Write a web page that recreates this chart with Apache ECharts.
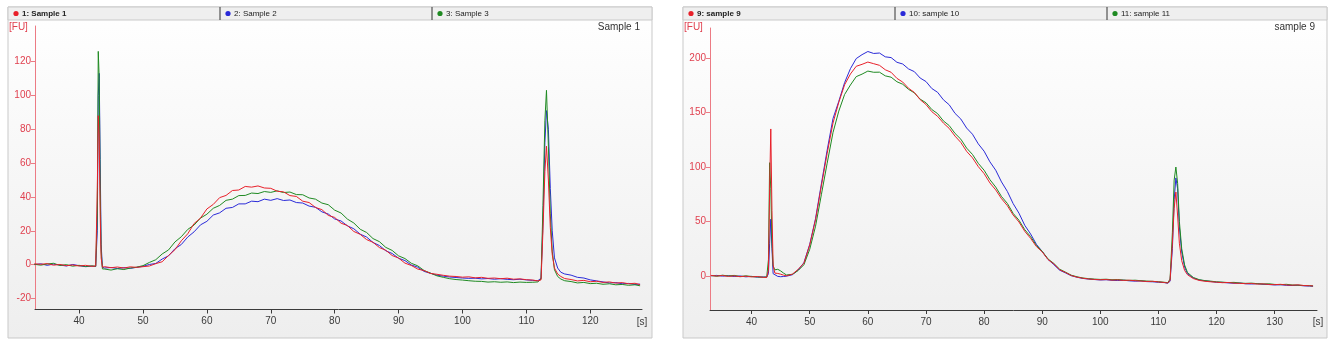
<!DOCTYPE html>
<html>
<head>
<meta charset="utf-8">
<script src="https://cdn.jsdelivr.net/npm/echarts@6/dist/echarts.min.js"></script>
<style>
html,body{margin:0;padding:0;background:#ffffff;}
#chart{width:1335px;height:344px;}
</style>
</head>
<body>
<div id="chart"></div>
<script>
// Electropherogram run times [s], panel A (samples 1-3)
const timeA = [33,34,35,36,37,38,39,40,41,42,42.6,42.85,43.0,43.15,43.3,43.45,43.65,43.9,
  44,45,46,47,48,49,50,51,52,53,54,55,56,57,58,59,60,61,62,63,64,65,66,67,68,69,70,71,72,73,74,75,
  76,77,78,79,80,81,82,83,84,85,86,87,88,89,90,91,92,93,94,95,96,97,98,99,100,101,102,103,104,105,
  106,107,108,109,110,111,111.8,112.3,112.6,112.9,113.15,113.45,113.75,114.05,114.4,114.9,115.4,
  116,117,118,119,120,121,122,123,124,125,126,127,127.8];

// Fluorescence [FU]
const sample1 = [0.5,0.2,0.6,-0.3,0.1,-0.6,-0.2,-0.8,-0.4,-1.0,-0.8,45,88,75,30,4,-1.5,-2,
  -1.2,-1.8,-1.4,-2.0,-1.3,-1.6,-1.2,-0.8,0.6,1.7,5.4,8.8,14.1,18.2,24.3,27.5,32.9,35.6,39.6,40.9,43.8,44.1,
  46.2,45.8,46.5,45.3,45.1,43.4,43.0,40.8,40.3,37.5,36.7,33.8,32.5,29.1,27.9,24.5,23.1,19.6,17.9,14.8,
  13.2,10.1,8.5,5.4,3.9,0.9,-0.5,-2.6,-3.5,-5.2,-5.7,-6.3,-6.8,-7.0,-7.4,-7.2,-7.8,-7.5,-8.1,-7.9,
  -8.3,-8.0,-8.6,-8.4,-8.9,-9.1,-9.6,-9.0,20,55,70,50,22,6,-2,-5.5,-7.0,
  -8.2,-8.8,-9.6,-9.3,-10.1,-9.8,-10.5,-10.2,-10.9,-10.6,-11.3,-11.0,-11.8];

const sample2 = [0.0,0.5,-0.4,0.3,-0.2,-0.8,0.1,-0.6,-1.2,-0.9,-1.1,20,100,113,62,12,-1.5,-2.4,
  -2.0,-1.7,-2.3,-1.8,-2.2,-1.6,-1.0,0.1,0.7,3.3,5.2,9.4,11.9,16.3,19.4,23.5,25.6,29.3,30.6,33.3,33.8,35.9,
  35.9,37.5,37.2,38.7,38.0,39.0,37.9,38.2,36.7,36.4,34.6,33.9,31.2,29.9,27.0,25.8,22.9,21.2,18.0,16.3,
  13.1,11.3,8.2,6.6,3.8,2.4,-0.2,-1.5,-4.0,-5.1,-6.2,-6.8,-7.3,-7.6,-7.9,-8.1,-8.0,-8.4,-8.2,-8.6,
  -8.3,-8.7,-8.9,-8.6,-9.0,-9.3,-9.5,-8.0,25,72,91,80,45,20,4,-2,-4.5,
  -5.5,-6.2,-7.5,-7.9,-9.0,-9.6,-10.2,-10.8,-10.6,-11.3,-11.1,-11.7,-11.5];

const sample3 = [0.2,-0.3,0.4,0.8,-0.5,0.0,-0.9,-0.4,-1.1,-0.7,-1.0,30,126,110,45,8,-2.5,-3,
  -2.6,-3.2,-2.4,-2.9,-2.0,-1.5,-0.6,1.3,2.9,6.3,8.7,13.4,16.5,20.8,23.4,27.5,29.8,33.3,35.0,38.0,38.7,40.8,
  40.9,42.3,42.0,43.2,42.7,43.6,42.6,42.9,41.4,41.3,39.4,38.7,36.4,35.4,32.2,30.5,26.9,24.6,20.9,19.0,
  15.4,13.6,10.2,8.4,5.2,3.6,0.8,-0.7,-3.5,-5.0,-6.6,-7.5,-8.3,-8.8,-9.1,-9.5,-9.8,-9.9,-10.3,-10.1,
  -10.4,-10.2,-10.6,-10.3,-10.5,-10.4,-10.2,-8.5,35,85,103,70,30,8,-3,-7,-8.5,
  -9.5,-10.0,-10.8,-10.5,-11.2,-11.0,-11.6,-11.3,-11.9,-11.7,-12.2,-11.9,-12.5];

// Run times [s], panel B (samples 9-11)
const timeB = [33,34,35,36,37,38,39,40,41,42,42.6,42.9,43.1,43.3,43.5,43.7,44,44.5,45,45.5,46,
  47,48,49,50,51,52,53,54,55,56,57,58,59,60,61,62,63,64,65,66,67,68,69,70,71,72,73,74,75,76,77,78,79,
  80,81,82,83,84,85,86,87,88,89,90,91,92,93,94,95,96,97,98,99,100,101,102,103,104,105,106,107,108,109,
  110,111,111.6,112,112.4,112.7,113.0,113.3,113.6,114.0,114.5,115,
  116,117,118,119,120,121,122,123,124,125,126,127,128,129,130,131,132,133,134,135,136,136.6];

const sample9 = [0.4,-0.2,0.3,-0.5,0.0,-0.8,-0.3,-1.0,-0.6,-1.4,-1.5,5,80,135,60,10,2.5,2.2,1.5,0.6,0.0,
  1.5,5.9,11.6,28.4,51.6,82.5,112.6,140.4,159.5,175.6,185.5,192.6,194.4,196.5,195.0,193.5,189.4,187.1,181.5,178.1,172.4,168.6,161.9,157.5,150.9,146.6,140.4,135.5,128.4,122.6,114.4,108.5,100.4,
  94.0,85.4,79.0,70.9,64.5,55.9,49.5,40.9,34.5,26.9,22.0,15.0,11.0,5.6,3.1,0.3,-1.2,-2.2,-2.9,-3.3,-3.6,-3.4,-3.9,-3.7,-4.2,-4.0,-4.5,-4.8,-5.2,-5.0,
  -5.6,-6.1,-6.6,-4,30,62,77,55,30,14,5,1,
  -2.5,-4.2,-5.0,-5.5,-5.8,-6.3,-6.1,-6.7,-6.9,-7.2,-7.0,-7.6,-7.4,-7.9,-8.1,-7.8,-8.4,-8.6,-8.3,-8.9,-9.1,-9.3];

const sample10 = [0.0,0.4,-0.3,0.2,-0.6,-0.1,-0.9,-0.5,-1.2,-1.0,-1.2,2,30,52,25,2,0.5,-0.5,-0.8,-0.6,-0.3,
  1.0,5.3,12.1,28.9,52.6,84.4,115.5,144.5,160.4,177.6,190.4,199.7,203.3,206.2,204.4,204.8,201.3,200.6,196.3,194.7,190.2,187.7,181.8,178.6,172.2,168.7,161.8,157.2,149.3,144.1,135.8,130.2,121.3,
  114.6,104.8,97.1,86.3,77.6,66.4,57.6,46.4,38.5,29.0,22.4,15.1,10.3,5.2,2.7,0.1,-1.3,-2.4,-3.0,-3.4,-3.8,-3.6,-4.1,-4.3,-4.0,-4.6,-4.9,-4.7,-5.3,-5.5,
  -5.9,-6.2,-6.8,-5,25,70,90,80,45,22,8,2,
  -2,-3.8,-4.6,-5.2,-5.9,-6.0,-6.5,-6.8,-6.6,-7.3,-7.5,-7.2,-7.8,-8.0,-8.4,-8.2,-8.7,-8.9,-8.6,-9.2,-9.4,-9.6];

const sample11 = [0.3,-0.4,0.6,-0.2,0.4,-0.7,0.0,-0.6,-1.0,-1.3,-1.0,15,104,80,30,9,5.5,6.0,4.5,2.5,0.8,
  1.4,4.8,10.2,24.4,45.6,74.5,103.5,131.6,151.4,166.7,175.4,183.1,185.4,188.2,187.1,187.2,183.8,182.6,178.4,176.1,171.4,168.2,162.4,159.1,152.9,149.1,142.4,138.1,130.9,125.6,117.4,111.6,103.4,
  97.1,88.4,81.6,72.9,66.6,57.4,51.1,42.4,36.1,27.9,22.5,15.5,11.4,6.1,3.4,0.6,-0.9,-2.0,-2.6,-3.0,-3.3,-3.1,-3.6,-3.4,-3.9,-4.2,-4.0,-4.5,-4.8,-5.1,
  -5.4,-5.9,-6.3,-3,40,88,100,85,50,25,10,3,
  -1.5,-3.5,-4.4,-4.9,-5.5,-5.8,-6.2,-6.0,-6.6,-6.9,-6.7,-7.2,-7.5,-7.3,-7.9,-8.1,-7.8,-8.4,-8.6,-8.9,-9.0,-9.3];

// Axis tick labels
const ticksXA = [40,50,60,70,80,90,100,110,120];
const ticksYA = [-20,0,20,40,60,80,100,120];
const ticksXB = [40,50,60,70,80,90,100,110,120,130];
const ticksYB = [0,50,100,150,200];

const legendA = ['1: Sample 1','2: Sample 2','3: Sample 3'];
const legendB = ['9: sample 9','10: sample 10','11: sample 11'];
const titleA = 'Sample 1';
const titleB = 'sample 9';

const COLORS = ['#e8202a','#2a2ad8','#1f8a22'];
const FONT = 'Liberation Sans, Arial, sans-serif';

function pairs(t, v){ return t.map((x,i)=>[x, v[i]]); }

function xAxisCfg(gi, min, max, ticks){
  return {
    type:'value', gridIndex:gi, min:min, max:max,
    axisLine:{show:true, onZero:false, lineStyle:{color:'#3a3a3a', width:1}},
    axisTick:{show:true, customValues:ticks, length:4, lineStyle:{color:'#3a3a3a'}},
    axisLabel:{customValues:ticks, color:'#3a3a3a', fontSize:10, fontFamily:FONT, margin:7},
    splitLine:{show:false}
  };
}
function yAxisCfg(gi, min, max, ticks){
  return {
    type:'value', gridIndex:gi, min:min, max:max,
    axisLine:{show:true, onZero:false, lineStyle:{color:'#ec7b84', width:1}},
    axisTick:{show:true, customValues:ticks, length:4, lineStyle:{color:'#ec7b84'}},
    axisLabel:{customValues:ticks, color:'#e0404f', fontSize:10, fontFamily:FONT, margin:4},
    splitLine:{show:false}
  };
}
function lineSeries(gi, t, v, color){
  return {
    type:'line', xAxisIndex:gi, yAxisIndex:gi, data:pairs(t, v),
    showSymbol:false, symbol:'none', smooth:false,
    lineStyle:{color:color, width:1}, itemStyle:{color:color}, z:3
  };
}

function panel(x0, x1, names, sepA, sepB){
  const els = [];
  els.push({type:'rect', z:-10, shape:{x:x0, y:7, width:x1-x0, height:331},
    style:{fill:new echarts.graphic.LinearGradient(0,0,0,1,[{offset:0,color:'#ffffff'},{offset:1,color:'#eeeeee'}]), stroke:'#c9c9c9', lineWidth:1}});
  els.push({type:'rect', z:-9, shape:{x:x0, y:7, width:x1-x0, height:13},
    style:{fill:'#efefef', stroke:'#c9c9c9', lineWidth:1}});
  [sepA, sepB].forEach(sx=>{
    els.push({type:'line', z:-8, shape:{x1:sx, y1:7, x2:sx, y2:20}, style:{stroke:'#333333', lineWidth:1}});
  });
  const starts = [x0, sepA, sepB];
  names.forEach((n,i)=>{
    const sx = starts[i] + 8;
    els.push({type:'circle', z:-7, shape:{cx:sx, cy:13.5, r:2.6}, style:{fill:COLORS[i]}});
    els.push({type:'text', z:-7, x:sx+6, y:13.5,
      style:{text:n, fill:'#222222', fontSize:8, fontWeight:i===0?'bold':'normal', fontFamily:FONT, textVerticalAlign:'middle', verticalAlign:'middle'}});
  });
  return els;
}

const chart = echarts.init(document.getElementById('chart'), null, {renderer:'canvas'});

const graphics = []
  .concat(panel(8, 652, legendA, 220, 432))
  .concat(panel(683, 1327, legendB, 895, 1107))
  .concat([
    {type:'text', x:640, y:27, style:{text:titleA, fill:'#333333', fontSize:10, fontFamily:FONT, align:'right', verticalAlign:'middle'}},
    {type:'text', x:1315, y:27, style:{text:titleB, fill:'#333333', fontSize:10, fontFamily:FONT, align:'right', verticalAlign:'middle'}},
    {type:'text', x:9, y:27, style:{text:'[FU]', fill:'#e0404f', fontSize:10, fontFamily:FONT, verticalAlign:'middle'}},
    {type:'text', x:684, y:27, style:{text:'[FU]', fill:'#e0404f', fontSize:10, fontFamily:FONT, verticalAlign:'middle'}},
    {type:'text', x:642, y:322, style:{text:'[s]', fill:'#3a3a3a', fontSize:10, fontFamily:FONT, align:'center', verticalAlign:'middle'}},
    {type:'text', x:1318, y:322, style:{text:'[s]', fill:'#3a3a3a', fontSize:10, fontFamily:FONT, align:'center', verticalAlign:'middle'}}
  ]);

chart.setOption({
  animation:false,
  backgroundColor:'#ffffff',
  graphic:{elements:graphics},
  grid:[
    {left:35, top:26, width:607, height:283.5, containLabel:false},
    {left:710, top:28, width:607, height:282, containLabel:false}
  ],
  xAxis:[xAxisCfg(0, 33.1, 128.1, ticksXA), xAxisCfg(1, 32.84, 137.28, ticksXB)],
  yAxis:[yAxisCfg(0, -26.5, 141, ticksYA), yAxisCfg(1, -31.4, 227.8, ticksYB)],
  series:[
    lineSeries(0, timeA, sample2, COLORS[1]),
    lineSeries(0, timeA, sample3, COLORS[2]),
    lineSeries(0, timeA, sample1, COLORS[0]),
    lineSeries(1, timeB, sample10, COLORS[1]),
    lineSeries(1, timeB, sample11, COLORS[2]),
    lineSeries(1, timeB, sample9, COLORS[0])
  ]
});
</script>
</body>
</html>
